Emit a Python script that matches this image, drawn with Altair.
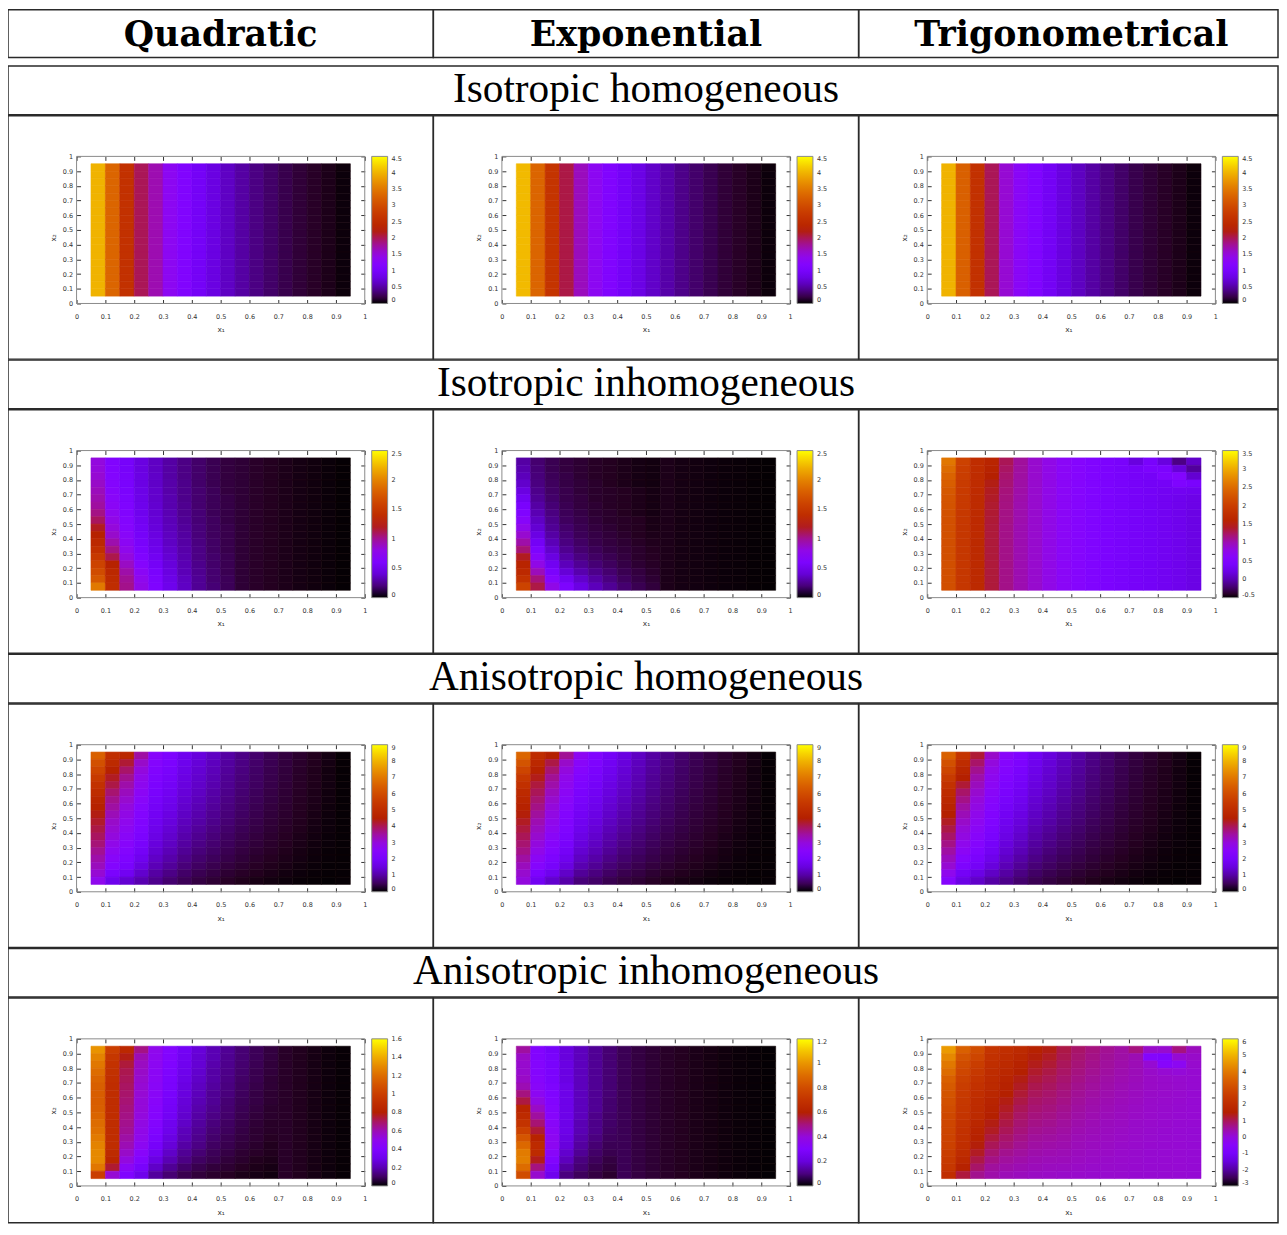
import math
import altair as alt
import pandas as pd

# ---------------- text ----------------
COL_TITLES = ["Quadratic", "Exponential", "Trigonometrical"]
ROW_TITLES = ["Isotropic homogeneous", "Isotropic inhomogeneous",
              "Anisotropic homogeneous", "Anisotropic inhomogeneous"]
AXIS_TICKS = [0, 0.1, 0.2, 0.3, 0.4, 0.5, 0.6, 0.7, 0.8, 0.9, 1]
FRAME_EXTENT = [0, 1]          # x1 and x2 axis ranges of every panel

# colour-bar tick labels (first/last = colour range)
CB_ISO_HOM = [0, 0.5, 1, 1.5, 2, 2.5, 3, 3.5, 4, 4.5]
CB_ISO_INHOM = [0, 0.5, 1, 1.5, 2, 2.5]
CB_TRIG_ISO_INHOM = [-0.5, 0, 0.5, 1, 1.5, 2, 2.5, 3, 3.5]
CB_ANISO_HOM = [0, 1, 2, 3, 4, 5, 6, 7, 8, 9]
CB_QUAD_ANISO_INHOM = [0, 0.2, 0.4, 0.6, 0.8, 1, 1.2, 1.4, 1.6]
CB_EXP_ANISO_INHOM = [0, 0.2, 0.4, 0.6, 0.8, 1, 1.2]
CB_TRIG_ANISO_INHOM = [-3, -2, -1, 0, 1, 2, 3, 4, 5, 6]

# ---------------- cell values ----------------
# 18 columns (x1 = 0.05 .. 0.95, step 0.05). A column is either one value
# (constant in x2) or 18 values from top (x2 = 0.95) to bottom (x2 = 0.05).
QUAD_ISO_HOM = [4.0, 3.3, 2.6, 2.0, 1.7, 1.35, 1.15, 0.95, 0.78, 0.63, 0.5, 0.39, 0.3, 0.22, 0.16, 0.11, 0.07, 0.03]
EXP_ISO_HOM = [4.05, 3.3, 2.65, 2.05, 1.65, 1.35, 1.15, 0.96, 0.8, 0.65, 0.52, 0.41, 0.31, 0.23, 0.16, 0.11, 0.07, 0.03]
TRIG_ISO_HOM = [4.0, 3.25, 2.6, 2.0, 1.55, 1.3, 1.12, 0.93, 0.77, 0.62, 0.5, 0.39, 0.3, 0.22, 0.16, 0.11, 0.07, 0.03]

QUAD_ISO_INHOM = [
    [0.83, 0.84, 0.86, 0.89, 0.92, 0.95, 0.98, 1.03, 1.1, 1.2, 1.27, 1.35, 1.43, 1.52, 1.6, 1.67, 1.75, 1.95],
    [0.64, 0.65, 0.66, 0.67, 0.69, 0.71, 0.73, 0.76, 0.8, 0.84, 0.88, 0.95, 1.03, 1.13, 1.28, 1.34, 1.38, 1.4],
    [0.55, 0.55, 0.56, 0.57, 0.58, 0.6, 0.62, 0.64, 0.66, 0.68, 0.71, 0.74, 0.78, 0.83, 0.9, 0.96, 1.0, 1.02],
    [0.43, 0.43, 0.44, 0.44, 0.45, 0.46, 0.47, 0.48, 0.5, 0.52, 0.54, 0.56, 0.59, 0.63, 0.68, 0.73, 0.77, 0.8],
    [0.35, 0.35, 0.36, 0.36, 0.37, 0.37, 0.38, 0.39, 0.4, 0.41, 0.43, 0.45, 0.47, 0.5, 0.53, 0.57, 0.6, 0.62],
    [0.28, 0.28, 0.28, 0.29, 0.29, 0.3, 0.3, 0.31, 0.32, 0.33, 0.34, 0.35, 0.37, 0.39, 0.41, 0.43, 0.45, 0.47],
    [0.22, 0.22, 0.22, 0.23, 0.23, 0.23, 0.24, 0.24, 0.25, 0.26, 0.27, 0.28, 0.29, 0.3, 0.31, 0.32, 0.34, 0.35],
    [0.17, 0.17, 0.17, 0.17, 0.18, 0.18, 0.18, 0.19, 0.19, 0.2, 0.2, 0.21, 0.22, 0.22, 0.23, 0.24, 0.25, 0.25],
    [0.13, 0.13, 0.13, 0.13, 0.14, 0.14, 0.14, 0.14, 0.15, 0.15, 0.15, 0.16, 0.16, 0.17, 0.17, 0.18, 0.18, 0.19],
    [0.1, 0.1, 0.1, 0.1, 0.1, 0.11, 0.11, 0.11, 0.11, 0.12, 0.12, 0.12, 0.12, 0.13, 0.13, 0.13, 0.14, 0.14],
    0.085, 0.065, 0.05, 0.04, 0.03, 0.022, 0.014, 0.007,
]

EXP_ISO_INHOM = [
    [0.28, 0.3, 0.33, 0.37, 0.43, 0.5, 0.57, 0.63, 0.7, 0.78, 0.87, 0.96, 1.06, 1.2, 1.3, 1.36, 1.45, 1.6],
    [0.18, 0.19, 0.2, 0.21, 0.23, 0.25, 0.28, 0.31, 0.35, 0.39, 0.44, 0.52, 0.6, 0.7, 0.8, 0.92, 1.05, 1.14],
    [0.13, 0.13, 0.14, 0.15, 0.16, 0.17, 0.19, 0.21, 0.23, 0.25, 0.28, 0.32, 0.37, 0.43, 0.5, 0.58, 0.68, 0.8],
    [0.1, 0.1, 0.11, 0.11, 0.12, 0.12, 0.13, 0.14, 0.15, 0.17, 0.19, 0.21, 0.24, 0.28, 0.33, 0.4, 0.5, 0.6],
    [0.08, 0.08, 0.08, 0.09, 0.09, 0.1, 0.1, 0.11, 0.12, 0.13, 0.14, 0.16, 0.18, 0.21, 0.25, 0.3, 0.37, 0.44],
    [0.06, 0.06, 0.06, 0.07, 0.07, 0.07, 0.08, 0.08, 0.09, 0.1, 0.11, 0.12, 0.14, 0.16, 0.19, 0.23, 0.28, 0.33],
    [0.05, 0.05, 0.05, 0.05, 0.06, 0.06, 0.06, 0.07, 0.07, 0.08, 0.09, 0.1, 0.11, 0.13, 0.15, 0.18, 0.21, 0.25],
    [0.04, 0.04, 0.04, 0.04, 0.05, 0.05, 0.05, 0.05, 0.06, 0.06, 0.07, 0.08, 0.09, 0.1, 0.11, 0.13, 0.15, 0.18],
    [0.03, 0.03, 0.03, 0.03, 0.04, 0.04, 0.04, 0.04, 0.05, 0.05, 0.05, 0.06, 0.07, 0.07, 0.08, 0.1, 0.11, 0.13],
    [0.025, 0.025, 0.025, 0.025, 0.03, 0.03, 0.03, 0.03, 0.035, 0.035, 0.04, 0.045, 0.05, 0.055, 0.06, 0.07, 0.08, 0.095],
    0.04, 0.03, 0.025, 0.02, 0.016, 0.012, 0.008, 0.005,
]

TRIG_ISO_INHOM = [
    [2.6, 2.5, 2.42, 2.36, 2.3, 2.27, 2.25, 2.23, 2.22, 2.21, 2.2, 2.2, 2.2, 2.2, 2.2, 2.2, 2.2, 2.2],
    [2.05, 2.0, 1.98, 1.96, 1.95, 1.94, 1.93, 1.92, 1.91, 1.9, 1.9, 1.9, 1.9, 1.9, 1.9, 1.9, 1.9, 1.9],
    [1.75, 1.74, 1.73, 1.72, 1.71, 1.7, 1.7, 1.7, 1.69, 1.69, 1.69, 1.68, 1.68, 1.68, 1.68, 1.68, 1.68, 1.68],
    [1.6, 1.56, 1.5, 1.45, 1.42, 1.4, 1.38, 1.37, 1.36, 1.35, 1.35, 1.35, 1.35, 1.35, 1.35, 1.35, 1.35, 1.35],
    [1.28, 1.25, 1.22, 1.2, 1.18, 1.17, 1.16, 1.15, 1.15, 1.14, 1.14, 1.14, 1.14, 1.14, 1.14, 1.14, 1.14, 1.14],
    [1.08, 1.07, 1.06, 1.05, 1.04, 1.03, 1.02, 1.02, 1.02, 1.01, 1.01, 1.01, 1.01, 1.01, 1.01, 1.01, 1.01, 1.01],
    0.9, 0.78, 0.66, 0.58, 0.5, 0.44, 0.4,
    [0.18, 0.37, 0.37, 0.37, 0.37, 0.37, 0.37, 0.37, 0.37, 0.37, 0.37, 0.37, 0.37, 0.37, 0.37, 0.37, 0.37, 0.37],
    [0.4, 0.45, 0.36, 0.34, 0.34, 0.34, 0.34, 0.34, 0.34, 0.34, 0.34, 0.34, 0.34, 0.34, 0.34, 0.34, 0.34, 0.34],
    [0.18, 0.45, 0.5, 0.35, 0.31, 0.3, 0.3, 0.3, 0.3, 0.3, 0.3, 0.3, 0.3, 0.3, 0.3, 0.3, 0.3, 0.3],
    [-0.15, 0.15, 0.55, 0.48, 0.3, 0.27, 0.26, 0.26, 0.26, 0.26, 0.26, 0.26, 0.26, 0.26, 0.26, 0.26, 0.26, 0.26],
    [0.08, -0.08, 0.12, 0.42, 0.28, 0.23, 0.22, 0.21, 0.21, 0.21, 0.21, 0.21, 0.21, 0.21, 0.21, 0.21, 0.21, 0.21],
]

QUAD_ANISO_HOM = [
    [6.5, 6.1, 5.8, 5.5, 5.2, 5.0, 4.75, 4.6, 4.4, 4.25, 4.1, 3.95, 3.8, 3.62, 3.45, 3.3, 3.1, 2.8],
    [5.1, 4.9, 4.6, 4.3, 4.1, 3.85, 3.65, 3.5, 3.35, 3.2, 3.1, 3.0, 2.85, 2.7, 2.55, 2.35, 2.1, 1.7],
    [4.8, 4.2, 3.9, 3.65, 3.45, 3.3, 3.15, 3.0, 2.9, 2.8, 2.7, 2.6, 2.5, 2.38, 2.22, 2.05, 1.8, 1.4],
    [3.5, 3.2, 3.0, 2.85, 2.75, 2.65, 2.55, 2.45, 2.38, 2.3, 2.22, 2.12, 2.02, 1.9, 1.75, 1.55, 1.35, 1.1],
    [2.5, 2.4, 2.3, 2.2, 2.12, 2.05, 1.98, 1.9, 1.83, 1.76, 1.68, 1.6, 1.5, 1.4, 1.28, 1.15, 1.0, 0.85],
    [2.2, 2.12, 2.04, 1.96, 1.88, 1.8, 1.73, 1.66, 1.58, 1.5, 1.42, 1.34, 1.25, 1.15, 1.05, 0.93, 0.8, 0.65],
    [1.75, 1.7, 1.64, 1.58, 1.52, 1.46, 1.4, 1.34, 1.27, 1.2, 1.13, 1.06, 0.98, 0.9, 0.81, 0.71, 0.6, 0.5],
    [1.5, 1.45, 1.4, 1.35, 1.3, 1.25, 1.19, 1.13, 1.07, 1.01, 0.94, 0.87, 0.8, 0.72, 0.64, 0.56, 0.47, 0.38],
    [1.25, 1.21, 1.17, 1.12, 1.08, 1.03, 0.98, 0.93, 0.88, 0.83, 0.77, 0.71, 0.65, 0.59, 0.52, 0.45, 0.38, 0.3],
    [1.0, 0.97, 0.94, 0.9, 0.87, 0.83, 0.79, 0.75, 0.71, 0.67, 0.62, 0.57, 0.52, 0.47, 0.42, 0.36, 0.29, 0.22],
    [0.8, 0.78, 0.75, 0.72, 0.69, 0.66, 0.63, 0.6, 0.57, 0.53, 0.49, 0.45, 0.41, 0.37, 0.33, 0.28, 0.22, 0.16],
    [0.63, 0.61, 0.59, 0.57, 0.55, 0.52, 0.5, 0.47, 0.45, 0.42, 0.39, 0.36, 0.33, 0.29, 0.25, 0.21, 0.17, 0.12],
    [0.48, 0.47, 0.45, 0.44, 0.42, 0.4, 0.38, 0.36, 0.34, 0.32, 0.3, 0.27, 0.25, 0.22, 0.19, 0.16, 0.13, 0.09],
    [0.36, 0.35, 0.34, 0.33, 0.31, 0.3, 0.29, 0.27, 0.26, 0.24, 0.22, 0.2, 0.18, 0.16, 0.14, 0.12, 0.09, 0.06],
    [0.26, 0.25, 0.24, 0.23, 0.22, 0.21, 0.2, 0.19, 0.18, 0.17, 0.16, 0.14, 0.13, 0.11, 0.1, 0.08, 0.06, 0.04],
    [0.17, 0.17, 0.16, 0.16, 0.15, 0.14, 0.14, 0.13, 0.12, 0.11, 0.1, 0.09, 0.08, 0.07, 0.06, 0.05, 0.04, 0.03],
    [0.1, 0.1, 0.09, 0.09, 0.09, 0.08, 0.08, 0.07, 0.07, 0.06, 0.06, 0.05, 0.05, 0.04, 0.04, 0.03, 0.03, 0.02],
    0.03,
]

EXP_ANISO_HOM = [
    [6.6, 6.2, 5.8, 5.45, 5.15, 4.9, 4.75, 4.6, 4.45, 4.3, 4.15, 4.0, 3.85, 3.7, 3.5, 3.3, 3.15, 3.0],
    [5.0, 4.85, 4.6, 4.35, 4.15, 4.0, 3.85, 3.7, 3.55, 3.4, 3.28, 3.15, 3.0, 2.85, 2.65, 2.45, 2.15, 1.8],
    [4.5, 4.1, 3.85, 3.6, 3.45, 3.3, 3.15, 3.02, 2.92, 2.82, 2.72, 2.6, 2.48, 2.35, 2.18, 2.0, 1.72, 1.35],
    [3.6, 3.2, 3.0, 2.85, 2.75, 2.65, 2.55, 2.46, 2.38, 2.3, 2.22, 2.12, 2.02, 1.9, 1.75, 1.55, 1.3, 1.05],
    [2.7, 2.55, 2.42, 2.3, 2.2, 2.1, 2.02, 1.94, 1.86, 1.78, 1.7, 1.6, 1.5, 1.38, 1.25, 1.1, 0.92, 0.72],
    [2.3, 2.2, 2.1, 2.0, 1.92, 1.84, 1.76, 1.68, 1.6, 1.52, 1.44, 1.35, 1.25, 1.15, 1.03, 0.9, 0.75, 0.6],
    [1.9, 1.82, 1.74, 1.66, 1.59, 1.52, 1.45, 1.38, 1.31, 1.24, 1.16, 1.08, 1.0, 0.91, 0.81, 0.7, 0.58, 0.46],
    [1.55, 1.49, 1.43, 1.37, 1.31, 1.26, 1.2, 1.14, 1.08, 1.01, 0.95, 0.88, 0.8, 0.72, 0.64, 0.55, 0.45, 0.36],
] + QUAD_ANISO_HOM[8:]

TRIG_ANISO_HOM = [
    [6.5, 6.1, 5.8, 5.5, 5.2, 5.0, 4.85, 4.7, 4.5, 4.3, 4.1, 3.9, 3.7, 3.5, 3.3, 3.1, 2.8, 2.45],
    [5.3, 5.0, 4.75, 4.5, 4.2, 3.9, 3.7, 3.5, 3.35, 3.2, 3.05, 2.95, 2.8, 2.65, 2.45, 2.2, 1.9, 1.6],
    [4.2, 3.9, 3.65, 3.45, 3.3, 3.15, 3.02, 2.92, 2.82, 2.72, 2.62, 2.52, 2.4, 2.26, 2.1, 1.9, 1.6, 1.3],
    [3.2, 3.0, 2.85, 2.75, 2.65, 2.56, 2.48, 2.4, 2.32, 2.24, 2.15, 2.06, 1.95, 1.83, 1.68, 1.5, 1.28, 1.02],
    [2.55, 2.45, 2.35, 2.25, 2.16, 2.08, 2.0, 1.92, 1.84, 1.76, 1.68, 1.6, 1.5, 1.4, 1.28, 1.15, 1.0, 0.83],
    [2.25, 2.15, 2.06, 1.98, 1.9, 1.82, 1.74, 1.66, 1.58, 1.5, 1.42, 1.33, 1.24, 1.14, 1.03, 0.91, 0.78, 0.64],
    [1.8, 1.73, 1.66, 1.6, 1.53, 1.47, 1.4, 1.34, 1.27, 1.2, 1.12, 1.05, 0.97, 0.89, 0.8, 0.7, 0.59, 0.48],
] + QUAD_ANISO_HOM[7:]

QUAD_ANISO_INHOM = [
    [1.33, 1.28, 1.24, 1.2, 1.17, 1.15, 1.14, 1.14, 1.15, 1.17, 1.2, 1.22, 1.25, 1.28, 1.3, 1.3, 1.24, 1.0],
    [1.0, 0.96, 0.93, 0.92, 0.91, 0.9, 0.9, 0.9, 0.9, 0.9, 0.9, 0.9, 0.9, 0.9, 0.88, 0.85, 0.75, 0.55],
    [0.86, 0.78, 0.74, 0.72, 0.71, 0.7, 0.69, 0.68, 0.67, 0.66, 0.65, 0.64, 0.62, 0.6, 0.57, 0.53, 0.47, 0.4],
    [0.66, 0.6, 0.58, 0.57, 0.56, 0.55, 0.55, 0.54, 0.54, 0.53, 0.52, 0.51, 0.5, 0.48, 0.45, 0.41, 0.36, 0.3],
    [0.5, 0.49, 0.48, 0.47, 0.47, 0.46, 0.46, 0.45, 0.44, 0.43, 0.42, 0.4, 0.38, 0.35, 0.32, 0.28, 0.23, 0.17],
    [0.42, 0.41, 0.4, 0.39, 0.38, 0.37, 0.36, 0.35, 0.34, 0.33, 0.31, 0.3, 0.28, 0.26, 0.23, 0.2, 0.16, 0.12],
    [0.33, 0.32, 0.31, 0.3, 0.29, 0.28, 0.27, 0.26, 0.25, 0.24, 0.23, 0.21, 0.2, 0.18, 0.16, 0.14, 0.11, 0.08],
    [0.26, 0.25, 0.25, 0.24, 0.23, 0.22, 0.21, 0.2, 0.19, 0.18, 0.17, 0.16, 0.15, 0.14, 0.12, 0.1, 0.08, 0.06],
    [0.2, 0.2, 0.19, 0.18, 0.18, 0.17, 0.16, 0.16, 0.15, 0.14, 0.13, 0.12, 0.11, 0.1, 0.09, 0.08, 0.06, 0.045],
    [0.16, 0.155, 0.15, 0.145, 0.14, 0.135, 0.13, 0.12, 0.115, 0.11, 0.1, 0.095, 0.085, 0.08, 0.07, 0.06, 0.05, 0.035],
    [0.12, 0.12, 0.115, 0.11, 0.105, 0.1, 0.095, 0.09, 0.085, 0.08, 0.075, 0.07, 0.065, 0.06, 0.05, 0.045, 0.035, 0.025],
    [0.09, 0.09, 0.085, 0.08, 0.08, 0.075, 0.07, 0.07, 0.065, 0.06, 0.055, 0.05, 0.05, 0.045, 0.04, 0.03, 0.025, 0.02],
    [0.065, 0.065, 0.06, 0.06, 0.055, 0.055, 0.05, 0.05, 0.045, 0.045, 0.04, 0.04, 0.035, 0.03, 0.03, 0.025, 0.02, 0.015],
    0.04, 0.03, 0.02, 0.012, 0.006,
]

EXP_ANISO_INHOM = [
    [0.47, 0.43, 0.42, 0.42, 0.43, 0.45, 0.5, 0.55, 0.63, 0.66, 0.7, 0.76, 0.83, 0.89, 0.94, 0.95, 0.9, 0.8],
    [0.31, 0.31, 0.32, 0.32, 0.33, 0.34, 0.36, 0.39, 0.43, 0.47, 0.51, 0.56, 0.62, 0.66, 0.66, 0.58, 0.5, 0.42],
    [0.26, 0.27, 0.27, 0.28, 0.28, 0.29, 0.3, 0.31, 0.32, 0.33, 0.34, 0.35, 0.36, 0.36, 0.34, 0.31, 0.27, 0.23],
    [0.2, 0.2, 0.21, 0.21, 0.21, 0.22, 0.22, 0.22, 0.22, 0.22, 0.22, 0.22, 0.21, 0.2, 0.18, 0.16, 0.13, 0.1],
    [0.16, 0.16, 0.16, 0.16, 0.16, 0.16, 0.16, 0.16, 0.16, 0.16, 0.15, 0.15, 0.14, 0.13, 0.12, 0.1, 0.09, 0.07],
    [0.12, 0.12, 0.12, 0.12, 0.12, 0.12, 0.12, 0.12, 0.12, 0.11, 0.11, 0.11, 0.1, 0.09, 0.08, 0.07, 0.06, 0.05],
    [0.09, 0.09, 0.09, 0.09, 0.09, 0.09, 0.09, 0.085, 0.085, 0.08, 0.08, 0.075, 0.07, 0.065, 0.06, 0.05, 0.045, 0.035],
    0.065, 0.05, 0.04, 0.03, 0.024, 0.018, 0.014, 0.01, 0.007, 0.005, 0.003,
]

TRIG_ANISO_INHOM = [
    [4.6, 4.3, 4.0, 3.75, 3.5, 3.35, 3.2, 3.1, 3.0, 2.9, 2.85, 2.8, 2.75, 2.7, 2.6, 2.5, 2.4, 2.1],
    [3.5, 3.2, 3.0, 2.85, 2.7, 2.6, 2.5, 2.42, 2.35, 2.3, 2.25, 2.2, 2.15, 2.1, 2.0, 1.85, 1.6, 1.15],
    [3.0, 2.8, 2.6, 2.45, 2.3, 2.2, 2.1, 2.0, 1.95, 1.9, 1.8, 1.7, 1.6, 1.45, 1.3, 1.1, 0.9, 0.65],
    [2.3, 2.2, 2.1, 2.0, 1.95, 1.9, 1.8, 1.7, 1.6, 1.5, 1.4, 1.3, 1.15, 1.0, 0.85, 0.7, 0.55, 0.45],
    [2.1, 2.0, 1.9, 1.8, 1.7, 1.6, 1.5, 1.4, 1.3, 1.2, 1.1, 1.0, 0.9, 0.8, 0.65, 0.55, 0.45, 0.35],
    [1.9, 1.8, 1.65, 1.5, 1.4, 1.3, 1.2, 1.1, 1.0, 0.92, 0.85, 0.78, 0.7, 0.62, 0.54, 0.46, 0.38, 0.3],
    [1.6, 1.45, 1.35, 1.25, 1.15, 1.05, 0.98, 0.9, 0.83, 0.76, 0.7, 0.63, 0.56, 0.5, 0.44, 0.38, 0.32, 0.25],
    [1.4, 1.3, 1.2, 1.1, 1.02, 0.95, 0.88, 0.82, 0.76, 0.7, 0.64, 0.58, 0.52, 0.46, 0.4, 0.34, 0.28, 0.22],
    [1.1, 1.05, 0.98, 0.92, 0.86, 0.8, 0.75, 0.7, 0.65, 0.6, 0.55, 0.5, 0.46, 0.42, 0.37, 0.32, 0.26, 0.2],
    [0.9, 0.85, 0.8, 0.75, 0.7, 0.65, 0.6, 0.56, 0.52, 0.48, 0.44, 0.4, 0.36, 0.33, 0.3, 0.26, 0.22, 0.18],
    [0.75, 0.7, 0.66, 0.62, 0.58, 0.54, 0.5, 0.46, 0.43, 0.4, 0.37, 0.34, 0.31, 0.28, 0.25, 0.22, 0.19, 0.16],
    [0.62, 0.58, 0.55, 0.52, 0.48, 0.45, 0.42, 0.39, 0.36, 0.33, 0.3, 0.28, 0.26, 0.24, 0.22, 0.2, 0.18, 0.15],
    [0.5, 0.48, 0.45, 0.42, 0.4, 0.37, 0.35, 0.32, 0.3, 0.28, 0.26, 0.24, 0.22, 0.2, 0.18, 0.17, 0.16, 0.15],
    [0.75, 0.38, 0.36, 0.34, 0.32, 0.3, 0.28, 0.26, 0.24, 0.22, 0.2, 0.19, 0.18, 0.17, 0.16, 0.15, 0.14, 0.13],
    [0.2, -0.6, 0.1, 0.2, 0.22, 0.22, 0.21, 0.2, 0.19, 0.18, 0.17, 0.16, 0.15, 0.14, 0.13, 0.12, 0.12, 0.12],
    [0.15, -0.7, -0.5, 0.1, 0.18, 0.19, 0.18, 0.17, 0.16, 0.15, 0.14, 0.13, 0.12, 0.12, 0.11, 0.11, 0.11, 0.11],
    [0.75, 0.1, -0.3, 0.05, 0.15, 0.16, 0.15, 0.14, 0.13, 0.12, 0.11, 0.1, 0.1, 0.1, 0.1, 0.1, 0.1, 0.1],
    [0.3, 0.2, 0.15, 0.12, 0.12, 0.12, 0.11, 0.1, 0.1, 0.1, 0.1, 0.09, 0.09, 0.09, 0.09, 0.09, 0.09, 0.09],
]

PANELS = [
    [(QUAD_ISO_HOM, CB_ISO_HOM), (EXP_ISO_HOM, CB_ISO_HOM), (TRIG_ISO_HOM, CB_ISO_HOM)],
    [(QUAD_ISO_INHOM, CB_ISO_INHOM), (EXP_ISO_INHOM, CB_ISO_INHOM), (TRIG_ISO_INHOM, CB_TRIG_ISO_INHOM)],
    [(QUAD_ANISO_HOM, CB_ANISO_HOM), (EXP_ANISO_HOM, CB_ANISO_HOM), (TRIG_ANISO_HOM, CB_ANISO_HOM)],
    [(QUAD_ANISO_INHOM, CB_QUAD_ANISO_INHOM), (EXP_ANISO_INHOM, CB_EXP_ANISO_INHOM), (TRIG_ANISO_INHOM, CB_TRIG_ANISO_INHOM)],
]

# ---------------- layout / style ----------------
CELL_W = [428, 428, 422]
NOMINAL_W = 428
HEADER_H = 48
TITLE_H = 49
HEADER_GAP = 8
PANEL_H = [245, 245, 245, 226]
FX0, FX1, FY0, FY1 = 69, 359, 41, 189      # plot frame inside a table cell (px)
CB_GAP, CB_THICK = 7, 16
N_CELLS, CELL = 18, 0.05
NSTOP = 48
LINE = "#2a2a2a"
LINE_W = 1.5
LABEL_FONT = "DejaVu Sans"


def gp_color(t):
    """gnuplot default pm3d palette (rgbformulae 7,5,15)."""
    t = min(1.0, max(0.0, t))
    r = math.sqrt(t)
    g = t ** 3
    b = max(0.0, math.sin(2 * math.pi * t))
    return "#%02x%02x%02x" % (round(255 * r), round(255 * g), round(255 * b))


def grid_frame(columns, lo, hi):
    rows = []
    i = 0
    for j, col in enumerate(columns):
        vals = col if isinstance(col, list) else [col] * N_CELLS
        for k, v in enumerate(vals):
            x0 = round(CELL + CELL * j, 4)
            y1 = round(1 - CELL - CELL * k, 4)
            rows.append(dict(i=i, x0=x0, x1=round(x0 + CELL, 4),
                             y0=round(y1 - CELL, 4), y1=y1, v=v,
                             edge=gp_color((v - lo) / (hi - lo))))
            i += 1
    return pd.DataFrame(rows)


def panel(columns, ticks, w, h):
    lo, hi = ticks[0], ticks[-1]
    df = grid_frame(columns, lo, hi)
    stops = [lo + (hi - lo) * k / NSTOP for k in range(NSTOP + 1)]
    colors = [gp_color(k / NSTOP) for k in range(NSTOP + 1)]
    cscale = alt.Scale(domain=stops, range=colors, clamp=True, interpolate="rgb")

    # scale domains chosen so that the unit square lands on the frame pixels
    sx = (FX1 - FX0)
    sy = (FY1 - FY0)
    xs = alt.Scale(domain=[-FX0 / sx, 1 + (w - FX1) / sx], nice=False, zero=False)
    ys = alt.Scale(domain=[-(h - FY1) / sy, 1 + FY0 / sy], nice=False, zero=False)

    lab = dict(grid=False, values=AXIS_TICKS, labelExpr="'' + datum.value",
               labelFont=LABEL_FONT, labelFontSize=6.5, labelColor="#333",
               labelFlush=False, labelOverlap=False, domain=False, ticks=False,
               titleFont=LABEL_FONT, titleFontSize=7.5, titleFontWeight="normal",
               titleColor="#333")
    tk = dict(grid=False, values=AXIS_TICKS, labels=False, title=None,
              domain=False, ticks=True, tickSize=4, tickColor="#333", tickWidth=1)

    heat = alt.Chart(df).mark_rect(strokeWidth=0.6).encode(
        x=alt.X("x0:Q", scale=xs,
                axis=alt.Axis(orient="bottom", offset=FY1 - h, labelPadding=10,
                              title="x₁", titlePadding=6, **lab)),
        x2="x1:Q",
        y=alt.Y("y0:Q", scale=ys,
                axis=alt.Axis(orient="left", offset=-FX0, labelPadding=4,
                              title="x₂", titlePadding=5, **lab)),
        y2="y1:Q",
        color=alt.Color("v:Q", scale=cscale, legend=alt.Legend(
            type="gradient", orient="none", legendX=FX1 + CB_GAP, legendY=FY0,
            direction="vertical", title=None, padding=0,
            gradientLength=FY1 - FY0, gradientThickness=CB_THICK,
            gradientStrokeColor="#8a8a8a", gradientStrokeWidth=1,
            values=ticks, labelExpr="'' + datum.value",
            labelFont=LABEL_FONT, labelFontSize=6.5, labelColor="#333",
            labelOffset=4, labelOverlap=False, labelBaseline="middle")),
        stroke=alt.Stroke("edge:N", scale=None),
    )
    fdf = pd.DataFrame({"a": [FRAME_EXTENT[0]], "b": [FRAME_EXTENT[1]]})
    frame_a = alt.Chart(fdf).mark_rect(fill=None, stroke="#8a8a8a", strokeWidth=1).encode(
        x=alt.X("a:Q", scale=xs, axis=alt.Axis(orient="top", offset=-FY1, **tk)),
        x2="b:Q",
        y=alt.Y("a:Q", scale=ys, axis=alt.Axis(orient="right", offset=FX0 - w, **tk)),
        y2="b:Q",
    )
    frame_b = alt.Chart(fdf).mark_point(opacity=0).encode(
        x=alt.X("a:Q", scale=xs, axis=alt.Axis(orient="bottom", offset=FY0 - h, **tk)),
        y=alt.Y("a:Q", scale=ys, axis=alt.Axis(orient="left", offset=-FX1, **tk)),
    )
    return (alt.layer(heat, frame_a, frame_b)
            .resolve_axis(x="independent", y="independent")
            .properties(width=w, height=h))


def text_cell(label, w, h, cx, font, size, weight):
    return alt.Chart(pd.DataFrame({"label": [label]})).mark_text(
        font=font, fontSize=size, fontWeight=weight, color="black",
        align="center", baseline="alphabetic",
    ).encode(text="label:N", x=alt.value(cx), y=alt.value(36)).properties(width=w, height=h)


header = alt.hconcat(
    *[text_cell(t, CELL_W[c], HEADER_H, NOMINAL_W / 2, "DejaVu Serif", 35, "bold")
      for c, t in enumerate(COL_TITLES)],
    spacing=0, bounds="flush")

rows = []
for r in range(4):
    rows.append(text_cell(ROW_TITLES[r], sum(CELL_W), TITLE_H, 3 * NOMINAL_W / 2,
                          "Liberation Serif", 41.5, "normal"))
    rows.append(
        alt.hconcat(*[panel(PANELS[r][c][0], PANELS[r][c][1], CELL_W[c], PANEL_H[r])
                      for c in range(3)], spacing=0, bounds="flush")
        .resolve_scale(color="independent"))

# full bounds include the half stroke on both sides -> negative spacing cancels it
body = (alt.vconcat(*rows, spacing=-LINE_W)
        .resolve_scale(color="independent"))

chart = (alt.vconcat(header, body, spacing=HEADER_GAP - LINE_W)
         .resolve_scale(color="independent")
         .properties(padding={"left": -1, "top": -3, "right": 0, "bottom": 0})
         .configure_view(stroke=LINE, strokeWidth=LINE_W))

chart.save("out.html", embed_options={"renderer": "svg", "actions": False})
